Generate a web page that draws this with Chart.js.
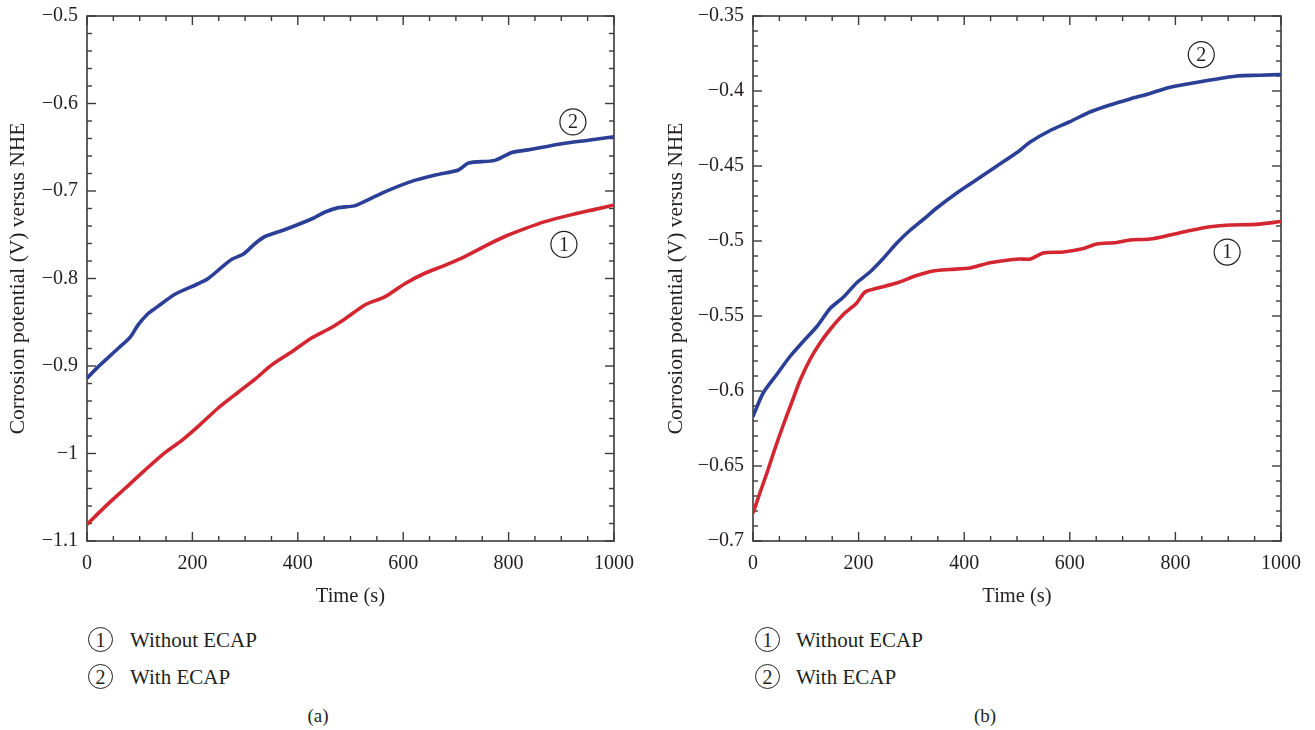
<!DOCTYPE html>
<html><head><meta charset="utf-8">
<script src="https://cdn.jsdelivr.net/npm/chart.js@4/dist/chart.umd.min.js"></script>
<style>
body{margin:0;background:#fff;width:1315px;height:730px;overflow:hidden;position:relative;font-family:"Liberation Serif","Times New Roman",serif;color:#231f20}
canvas{position:absolute;top:0}
.circ{position:absolute;width:25px;height:25px;border:1.3px solid #231f20;border-radius:50%;box-sizing:border-box;text-align:center;line-height:24px;font-size:20px}
.lt{position:absolute;font-size:21px;line-height:25px;white-space:nowrap}
.cap{position:absolute;font-size:19px;line-height:22px;transform:translateX(-50%)}
</style>
</head><body>
<canvas id="ca" width="636" height="616" style="left:0"></canvas>
<canvas id="cb" width="645" height="616" style="left:658px"></canvas>

<div class="circ" style="left:88px;top:627px">1</div><div class="lt" style="left:130px;top:628px">Without ECAP</div>
<div class="circ" style="left:88px;top:664px">2</div><div class="lt" style="left:130px;top:665px">With ECAP</div>
<div class="cap" style="left:318px;top:705px">(a)</div>

<div class="circ" style="left:755px;top:627px">1</div><div class="lt" style="left:796px;top:628px">Without ECAP</div>
<div class="circ" style="left:755px;top:664px">2</div><div class="lt" style="left:796px;top:665px">With ECAP</div>
<div class="cap" style="left:985px;top:705px">(b)</div>

<script>
// ---------- Data (a) ----------
const timeA_without = [0, 34, 72, 110, 148, 180, 211, 249, 287, 319, 350, 388, 426, 464, 490, 528, 565, 603, 641, 679, 717, 755, 793, 831, 869, 920, 964, 1000];
const potA_without  = [-1.081, -1.061, -1.040, -1.019, -0.999, -0.985, -0.969, -0.948, -0.930, -0.915, -0.899, -0.884, -0.868, -0.856, -0.846, -0.830, -0.821, -0.806, -0.794, -0.785, -0.775, -0.763, -0.752, -0.743, -0.735, -0.727, -0.721, -0.716];
const timeA_with = [0, 21, 59, 82, 97, 116, 132, 167, 211, 230, 256, 275, 297, 319, 338, 376, 426, 452, 477, 507, 530, 565, 616, 667, 705, 724, 774, 806, 837, 901, 951, 1000];
const potA_with  = [-0.914, -0.901, -0.880, -0.867, -0.853, -0.840, -0.833, -0.818, -0.806, -0.800, -0.787, -0.778, -0.772, -0.760, -0.752, -0.744, -0.732, -0.724, -0.719, -0.717, -0.711, -0.701, -0.689, -0.681, -0.676, -0.668, -0.665, -0.656, -0.653, -0.646, -0.642, -0.638];

// ---------- Data (b) ----------
const timeB_without = [0, 13, 26, 42, 57, 73, 89, 108, 127, 146, 171, 196, 212, 234, 272, 310, 341, 373, 411, 449, 504, 525, 550, 588, 626, 651, 689, 714, 752, 790, 828, 866, 903, 954, 1000];
const potB_without  = [-0.6815, -0.668, -0.655, -0.638, -0.623, -0.608, -0.593, -0.579, -0.568, -0.559, -0.549, -0.5415, -0.534, -0.5315, -0.528, -0.523, -0.520, -0.519, -0.518, -0.5145, -0.512, -0.512, -0.508, -0.5073, -0.505, -0.502, -0.501, -0.4993, -0.4987, -0.496, -0.493, -0.4905, -0.4893, -0.4889, -0.487];
const timeB_with = [0, 19, 45, 70, 95, 121, 146, 171, 196, 222, 247, 272, 297, 323, 348, 386, 424, 462, 504, 525, 562, 600, 638, 676, 714, 752, 790, 828, 866, 916, 960, 1000];
const potB_with  = [-0.617, -0.6015, -0.589, -0.577, -0.567, -0.557, -0.545, -0.5375, -0.528, -0.5205, -0.5115, -0.5015, -0.493, -0.4855, -0.478, -0.468, -0.459, -0.450, -0.440, -0.434, -0.4265, -0.4205, -0.414, -0.4093, -0.4053, -0.4016, -0.3975, -0.395, -0.3927, -0.390, -0.3895, -0.389];

// Tick setup
const xTicksMajor = 200, xTicksMinor = 50;
const yMajorA = 0.1, yMinorA = 0.02;
const yMajorB = 0.05, yMinorB = 0.01;

const RED = '#d32630', BLUE = '#2b3f97', INK = '#231f20';
const FONT = '"Liberation Serif", "Times New Roman", serif';

function pts(xs, ys){ return xs.map((x,i)=>({x, y: ys[i]})); }

const frameTicks = {
  id: 'frameTicks',
  beforeDatasetsDraw(chart, args, o) {
    const {ctx, chartArea:{left,right,top,bottom}, scales:{x,y}} = chart;
    ctx.save();
    ctx.strokeStyle = '#3a3a3a';
    ctx.lineWidth = 1.6;
    ctx.strokeRect(left, top, right-left, bottom-top);
    ctx.lineWidth = 1.4;
    const line = (a,b,c,d)=>{ctx.beginPath();ctx.moveTo(a,b);ctx.lineTo(c,d);ctx.stroke();};
    const nx = Math.round((x.max-x.min)/o.xMinor);
    const per = Math.round(o.xMajor/o.xMinor);
    for (let i=0;i<=nx;i++){
      const px = x.getPixelForValue(x.min + i*o.xMinor);
      const L = (i%per===0)?9:5;
      line(px,bottom,px,bottom-L); line(px,top,px,top+L);
    }
    const ny = Math.round((y.max-y.min)/o.yMinor);
    const pery = Math.round(o.yMajor/o.yMinor);
    for (let i=0;i<=ny;i++){
      const py = y.getPixelForValue(y.min + i*o.yMinor);
      const L = (i%pery===0)?9:5;
      line(left,py,left+L,py); line(right,py,right-L,py);
    }
    ctx.restore();
  },
  afterDatasetsDraw(chart, args, o) {
    const {ctx, scales:{x,y}} = chart;
    ctx.save();
    (o.marks||[]).forEach(m=>{
      const px = x.getPixelForValue(m.x), py = y.getPixelForValue(m.y);
      ctx.beginPath(); ctx.arc(px,py,13,0,Math.PI*2);
      ctx.strokeStyle = INK; ctx.lineWidth = 1.2; ctx.stroke();
      ctx.fillStyle = INK; ctx.font = '20px ' + FONT;
      ctx.textAlign='center'; ctx.textBaseline='middle';
      ctx.fillText(m.t, px, py+1);
    });
    ctx.restore();
  }
};

function fmt(v){
  const a = Number(Math.abs(v).toFixed(3));
  return (v < -1e-9 ? '\u2212' : '') + a.toString();
}

function makeChart(id, dsWithout, dsWith, yMin, yMax, yMajor, yMinor, yWidth, marks){
  return new Chart(document.getElementById(id), {
    type: 'line',
    data: { datasets: [
      { label: 'Without ECAP', data: dsWithout, borderColor: RED, borderWidth: 3.6, pointRadius: 0, tension: 0.25 },
      { label: 'With ECAP', data: dsWith, borderColor: BLUE, borderWidth: 3.6, pointRadius: 0, tension: 0.25 }
    ]},
    options: {
      responsive: false, animation: false, devicePixelRatio: 1,
      layout: { padding: { top: 16, right: 22, left: 0, bottom: 0 } },
      plugins: { legend: { display: false }, tooltip: { enabled: false },
        frameTicks: { xMajor: xTicksMajor, xMinor: xTicksMinor, yMajor, yMinor, marks } },
      scales: {
        x: { type: 'linear', min: 0, max: 1000,
          afterFit: s => { s.height = 75; s.paddingLeft = 0; s.paddingRight = 0; },
          grid: { display: false, drawTicks: false }, border: { display: false },
          ticks: { stepSize: xTicksMajor, autoSkip: false, maxRotation: 0, padding: 11, color: INK,
                   font: { family: FONT, size: 20 }, callback: v => fmt(v) },
          title: { display: true, text: 'Time (s)', color: INK, font: { family: FONT, size: 20.5 }, padding: { top: 4, bottom: 7 } } },
        y: { type: 'linear', min: yMin, max: yMax,
          afterFit: s => { s.width = yWidth; s.paddingTop = 0; s.paddingBottom = 0; },
          grid: { display: false, drawTicks: false }, border: { display: false },
          ticks: { stepSize: yMajor, autoSkip: false, padding: 9, color: INK,
                   font: { family: FONT, size: 20 }, callback: v => fmt(v) },
          title: { display: true, text: 'Corrosion potential (V) versus NHE', color: INK, font: { family: FONT, size: 21.5 }, padding: { top: 5, bottom: 4 } } }
      }
    },
    plugins: [frameTicks]
  });
}

makeChart('ca', pts(timeA_without, potA_without), pts(timeA_with, potA_with), -1.1, -0.5, yMajorA, yMinorA, 87,
  [{x: 922, y: -0.621, t: '2'}, {x: 905, y: -0.761, t: '1'}]);
makeChart('cb', pts(timeB_without, potB_without), pts(timeB_with, potB_with), -0.7, -0.35, yMajorB, yMinorB, 95,
  [{x: 849, y: -0.3757, t: '2'}, {x: 898, y: -0.5074, t: '1'}]);
</script>
</body></html>
